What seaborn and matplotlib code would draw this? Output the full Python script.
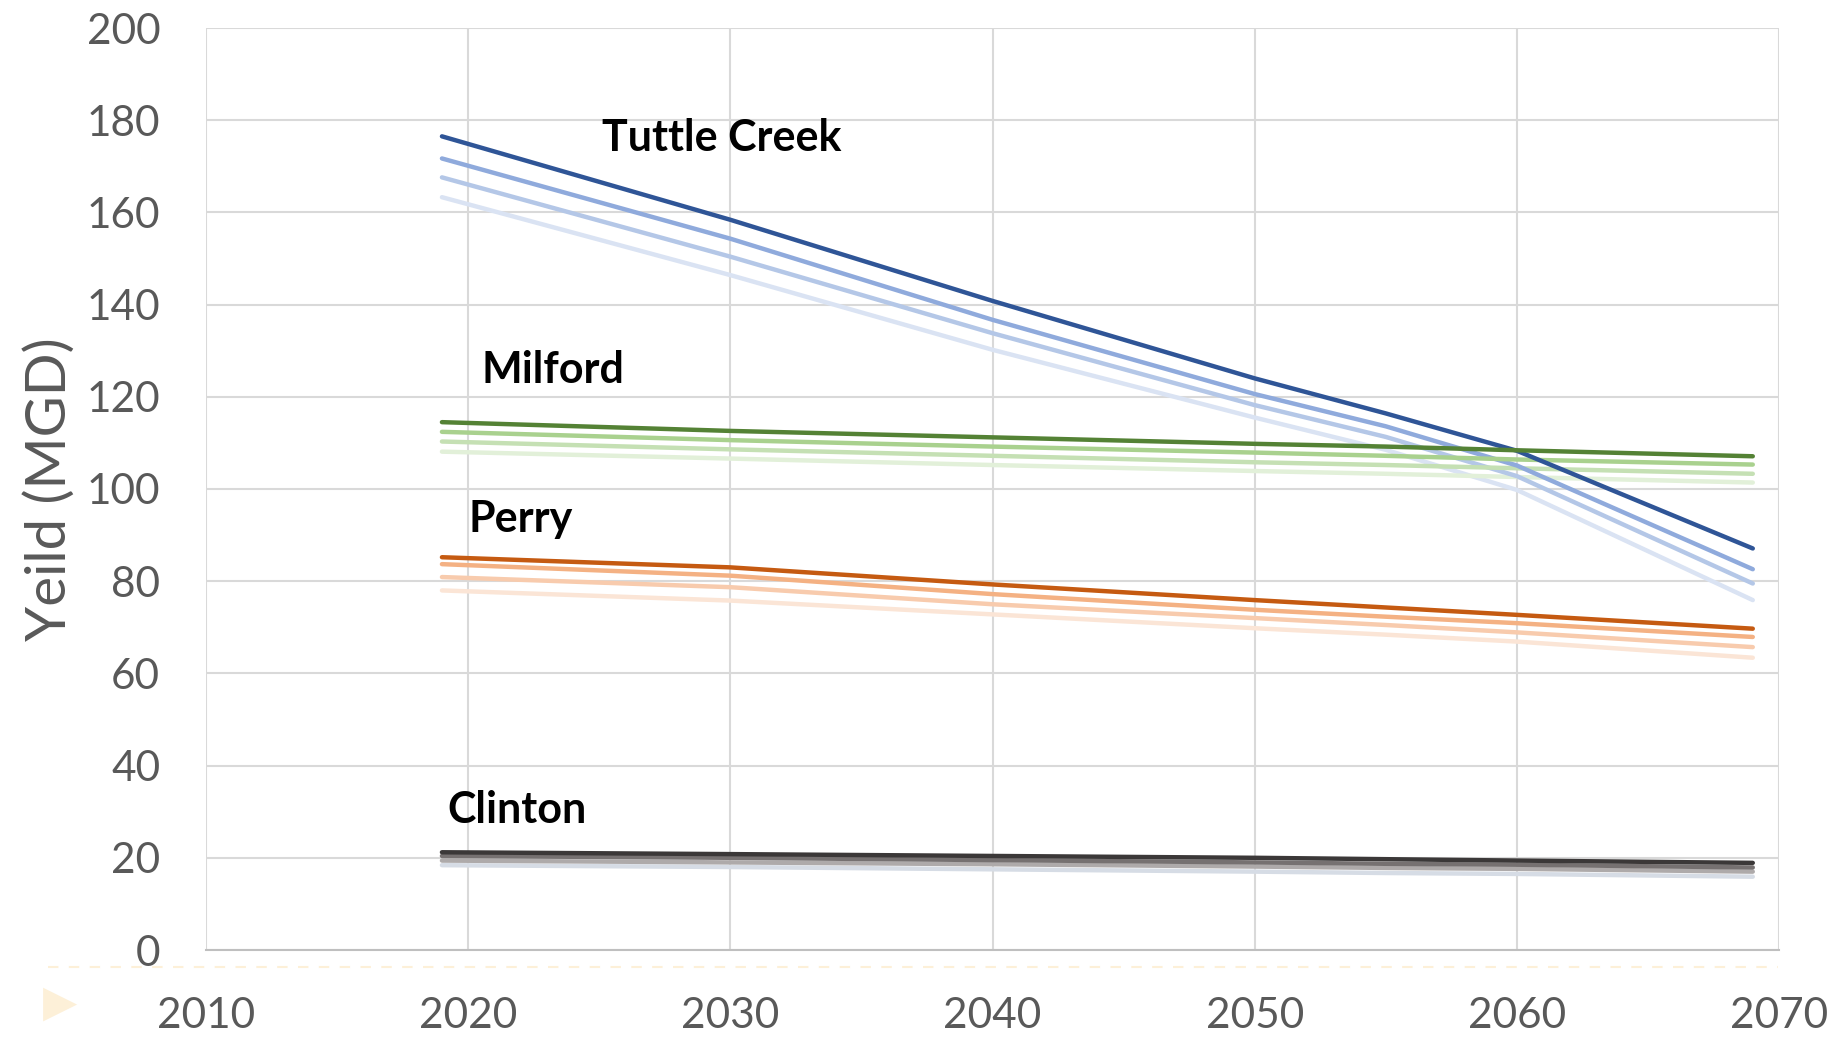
import matplotlib
matplotlib.use('Agg')
import matplotlib.pyplot as plt
import seaborn as sns
import pandas as pd
from matplotlib.lines import Line2D

years = [2019, 2030, 2040, 2050, 2055, 2060, 2069]

# Tuttle Creek
tuttle_1 = [176.5, 158.4, 140.8, 124.0, 116.4, 108.3, 87.1]
tuttle_2 = [171.7, 154.3, 136.7, 120.6, 113.6, 105.1, 82.6]
tuttle_3 = [167.6, 150.4, 133.8, 118.2, 111.3, 102.8, 79.5]
tuttle_4 = [163.3, 146.4, 130.2, 115.5, 108.5, 99.8, 75.9]

# Milford
milford_1 = [114.5, 112.6, 111.2, 109.8, 109.2, 108.4, 107.1]
milford_2 = [112.4, 110.6, 109.2, 107.9, 107.2, 106.4, 105.3]
milford_3 = [110.3, 108.6, 107.2, 105.8, 105.2, 104.5, 103.3]
milford_4 = [108.1, 106.6, 105.2, 103.9, 103.3, 102.6, 101.4]

# Perry
perry_1 = [85.2, 83.0, 79.3, 75.9, 74.3, 72.7, 69.7]
perry_2 = [83.7, 81.2, 77.2, 73.8, 72.3, 70.9, 67.9]
perry_3 = [80.9, 78.7, 75.0, 72.0, 70.5, 68.9, 65.7]
perry_4 = [78.0, 75.8, 72.8, 69.8, 68.4, 66.9, 63.4]

# Clinton
clinton_1 = [21.2, 20.8, 20.4, 20.0, 19.7, 19.4, 18.9]
clinton_2 = [20.4, 20.0, 19.5, 19.0, 18.7, 18.5, 17.9]
clinton_3 = [19.4, 19.0, 18.6, 18.1, 17.8, 17.6, 17.0]
clinton_4 = [18.4, 18.0, 17.5, 17.0, 16.7, 16.5, 15.9]

series = {
    'Tuttle Creek 1': tuttle_1, 'Tuttle Creek 2': tuttle_2,
    'Tuttle Creek 3': tuttle_3, 'Tuttle Creek 4': tuttle_4,
    'Milford 1': milford_1, 'Milford 2': milford_2,
    'Milford 3': milford_3, 'Milford 4': milford_4,
    'Perry 1': perry_1, 'Perry 2': perry_2,
    'Perry 3': perry_3, 'Perry 4': perry_4,
    'Clinton 1': clinton_1, 'Clinton 2': clinton_2,
    'Clinton 3': clinton_3, 'Clinton 4': clinton_4,
}
colors = {
    'Tuttle Creek 1': '#2f5597', 'Tuttle Creek 2': '#8faadc',
    'Tuttle Creek 3': '#b4c7e7', 'Tuttle Creek 4': '#dae3f3',
    'Milford 1': '#548235', 'Milford 2': '#a9d18e',
    'Milford 3': '#c5e0b4', 'Milford 4': '#e2f0d9',
    'Perry 1': '#c55a11', 'Perry 2': '#f4b183',
    'Perry 3': '#f8cbad', 'Perry 4': '#fbe5d6',
    'Clinton 1': '#3b3838', 'Clinton 2': '#767171',
    'Clinton 3': '#aeaaaa', 'Clinton 4': '#d6dce5',
}

rows = []
for name, vals in series.items():
    for y, v in zip(years, vals):
        rows.append({'year': y, 'value': v, 'series': name})
df = pd.DataFrame(rows)

sns.set_style('white')
plt.rcParams['font.family'] = ['Lato', 'DejaVu Sans']

fig = plt.figure(figsize=(18.35, 10.37), dpi=100)
ax = fig.add_axes([206 / 1835, 1 - 950 / 1037, (1779 - 206) / 1835, (950 - 28) / 1037])

# draw lightest first so dark lines sit on top
order = [k for k in series if k.endswith('4')] + [k for k in series if k.endswith('3')] + \
        [k for k in series if k.endswith('2')] + [k for k in series if k.endswith('1')]
for name in order:
    sns.lineplot(data=df[df['series'] == name], x='year', y='value', color=colors[name],
                 lw=3.2, ax=ax, legend=False, solid_capstyle='round', solid_joinstyle='round')

ax.set_xlim(2010, 2070)
ax.set_ylim(0, 200)
ax.set_xticks(range(2010, 2071, 10))
ax.set_yticks(range(0, 201, 20))
ax.grid(True, color='#d9d9d9', lw=1.5)
ax.set_axisbelow(True)
for s in ['top', 'right', 'left']:
    ax.spines[s].set_visible(False)
ax.spines['bottom'].set_color('#bfbfbf')
ax.spines['bottom'].set_linewidth(1.5)
ax.tick_params(axis='both', length=0, labelsize=30.5, colors='#595959')
ax.tick_params(axis='x', pad=34)
ax.tick_params(axis='y', pad=33)
ax.set_xlabel('')
ax.set_ylabel('Yeild (MGD)', fontsize=40.5, color='#595959', labelpad=8)

labels = [('Tuttle Creek', 2025.1, 176.2), ('Milford', 2020.5, 125.8),
          ('Perry', 2020.0, 93.6), ('Clinton', 2019.2, 30.4)]
for txt, x, y in labels:
    ax.text(x, y, txt, fontsize=31, fontweight='bold', color='black', ha='left', va='center')

# faint dashed line and marker below the plot
fig.add_artist(Line2D([48 / 1835, 1778 / 1835], [1 - 967 / 1037, 1 - 967 / 1037],
                      transform=fig.transFigure, color='#fdf0d8', lw=1.5, ls=(0, (5, 5))))
fig.text(60 / 1835, 1 - 1003 / 1037, '\u25B6', fontsize=32, color='#fdf0d8',
         ha='center', va='center', family=['DejaVu Sans'])

fig.savefig('out.png', dpi=100)
